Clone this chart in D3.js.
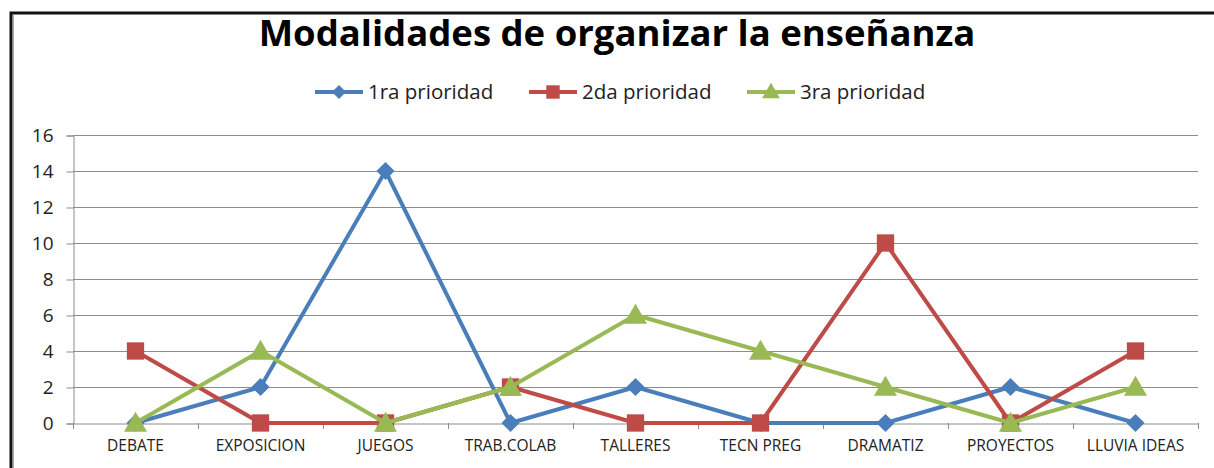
<!DOCTYPE html>
<html>
<head>
<meta charset="utf-8">
<script src="https://cdn.jsdelivr.net/npm/d3@7"></script>
<style>
  body { margin: 0; background: #fff; }
  svg { display: block; font-family: "Open Sans", "Noto Sans", sans-serif; }
</style>
</head>
<body>
<svg width="1214" height="468"></svg>
<script>
// datos
const categories = ["DEBATE", "EXPOSICION", "JUEGOS", "TRAB.COLAB", "TALLERES", "TECN PREG", "DRAMATIZ", "PROYECTOS", "LLUVIA IDEAS"];
const seriesNames = ["1ra prioridad", "2da prioridad", "3ra prioridad"];
const prioridad1 = [0, 2, 14, 0, 2, 0, 0, 2, 0];
const prioridad2 = [4, 0, 0, 2, 0, 0, 10, 0, 4];
const prioridad3 = [0, 4, 0, 2, 6, 4, 2, 0, 2];
const yTicks = [0, 2, 4, 6, 8, 10, 12, 14, 16];

const colors = ["#4a7ebb", "#be4b48", "#98b954"];
// rombo cuadrado (el de d3 es alargado)
const diamond = {
  draw(ctx, size) {
    const r = Math.sqrt(size / 2);
    ctx.moveTo(0, -r); ctx.lineTo(r, 0); ctx.lineTo(0, r); ctx.lineTo(-r, 0); ctx.closePath();
  }
};
const symbols = [diamond, d3.symbolSquare, d3.symbolTriangle];
const symSize = [165, 300, 230];
const series = [prioridad1, prioridad2, prioridad3].map((v, i) => ({ name: seriesNames[i], values: v, i }));

const svg = d3.select("svg");

// marco
svg.append("path")
  .attr("d", "M11,468 V13 H1214")
  .attr("fill", "none")
  .attr("stroke", "#111")
  .attr("stroke-width", 3);
svg.append("line")
  .attr("x1", 13.5).attr("x2", 13.5).attr("y1", 15).attr("y2", 468)
  .attr("stroke", "#aaa").attr("stroke-width", 1);

// titulo
svg.append("text")
  .attr("x", 617).attr("y", 46)
  .attr("text-anchor", "middle")
  .attr("font-size", 36.5)
  .attr("font-weight", "bold")
  .attr("fill", "#000")
  .text("Modalidades de organizar la enseñanza");

const x = d3.scaleBand().domain(categories).range([73, 1198]);
const y = d3.scaleLinear().domain([0, 16]).range([423, 135]);

// rejilla
svg.append("g")
  .selectAll("line")
  .data(yTicks.slice(1))
  .join("line")
  .attr("x1", 73).attr("x2", 1198)
  .attr("y1", d => y(d) + 0.5).attr("y2", d => y(d) + 0.5)
  .attr("stroke", "#8c8c8c").attr("stroke-width", 1);

// eje y
const yAxis = svg.append("g")
  .attr("transform", "translate(73.5,0.5)")
  .call(d3.axisLeft(y).tickValues(yTicks).tickSize(7).tickPadding(13));
yAxis.select(".domain").attr("stroke", "#8c8c8c");
yAxis.selectAll(".tick line").attr("stroke", "#8c8c8c");
yAxis.selectAll("text").attr("font-size", 19).attr("fill", "#222").attr("font-family", "Open Sans, sans-serif");

// eje x
const xAxis = svg.append("g")
  .attr("transform", "translate(0,423.5)")
  .call(d3.axisBottom(x).tickSize(0).tickPadding(16));
xAxis.select(".domain").attr("stroke", "#8c8c8c");
xAxis.selectAll("text").attr("font-size", 15.5).attr("fill", "#222").attr("font-family", "Open Sans, sans-serif");
// marcas entre categorias
svg.append("g")
  .selectAll("line")
  .data(categories.concat(["__end"]))
  .join("line")
  .attr("x1", (d, i) => (i < categories.length ? x(d) : x.range()[1]) + 0.5)
  .attr("x2", (d, i) => (i < categories.length ? x(d) : x.range()[1]) + 0.5)
  .attr("y1", 423).attr("y2", 429)
  .attr("stroke", "#8c8c8c");

// lineas
const line = d3.line()
  .x((d, i) => x(categories[i]) + x.bandwidth() / 2)
  .y(d => y(d));

const sg = svg.append("g").selectAll("g").data(series).join("g");
sg.append("path")
  .attr("d", d => line(d.values))
  .attr("fill", "none")
  .attr("stroke", d => colors[d.i])
  .attr("stroke-width", 4)
  .attr("stroke-linejoin", "round");
sg.each(function (s) {
  d3.select(this).selectAll("path.m")
    .data(s.values)
    .join("path")
    .attr("class", "m")
    .attr("transform", (d, i) => `translate(${x(categories[i]) + x.bandwidth() / 2},${y(d) + (s.i === 2 ? 2 : 0)})`)
    .attr("d", d3.symbol().type(symbols[s.i]).size(symSize[s.i]))
    .attr("fill", colors[s.i]);
});

// leyenda
const legendX = [315, 529, 747];
const lg = svg.append("g").selectAll("g").data(series).join("g")
  .attr("transform", d => `translate(${legendX[d.i]},92)`);
lg.append("line")
  .attr("x1", 0).attr("x2", 48)
  .attr("stroke", d => colors[d.i])
  .attr("stroke-width", 4);
lg.append("path")
  .attr("transform", d => `translate(24,${d.i === 2 ? 1 : 0})`)
  .attr("d", d => d3.symbol().type(symbols[d.i]).size(symSize[d.i] * 0.6)())
  .attr("fill", d => colors[d.i]);
lg.append("text")
  .attr("x", 53).attr("y", 7)
  .attr("font-size", 20.5)
  .attr("fill", "#222")
  .text(d => d.name);
</script>
</body>
</html>
